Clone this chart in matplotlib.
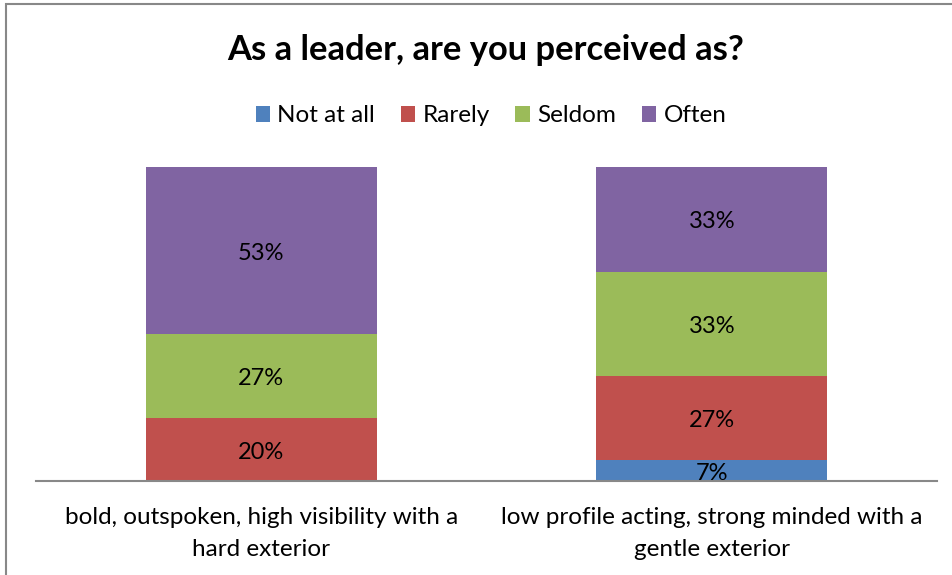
import numpy as np
from matplotlib import pyplot as plt
from matplotlib.patches import Rectangle

plt.rcParams['font.family'] = ['Lato', 'DejaVu Sans']

# data: number of answers per category (shown as percent of total)
categories = ["bold, outspoken, high visibility with a\nhard exterior",
              "low profile acting, strong minded with a\ngentle exterior"]
series_names = ["Not at all", "Rarely", "Seldom", "Often"]
not_at_all = [0, 1]
rarely = [3, 4]
seldom = [4, 5]
often = [8, 5]
colors = ["#4f81bd", "#c0504d", "#9bbb59", "#8064a2"]

values = np.array([not_at_all, rarely, seldom, often], dtype=float)
shares = values / values.sum(axis=0)

fig = plt.figure(figsize=(9.53, 5.75), dpi=100)
ax = fig.add_axes([36 / 953, 1 - 481 / 575, 901 / 953, 314 / 575])

x = np.arange(len(categories))
bottom = np.zeros(len(categories))
for name, share, col in zip(series_names, shares, colors):
    ax.bar(x, share, 0.513, bottom=bottom, color=col, label=name)
    for xi, b, s in zip(x, bottom, share):
        if s > 0:
            ax.text(xi, b + s / 2 - 0.008, f"{s * 100:.0f}%", ha="center", va="center",
                    fontsize=17, color="black")
    bottom += share

ax.set_xlim(-0.5, 1.5)
ax.set_ylim(0, 1)
ax.set_yticks([])
ax.set_xticks(x)
ax.set_xticklabels(categories, fontsize=17.5, linespacing=1.62)
ax.tick_params(axis="x", length=0, pad=19)
for side in ["left", "right", "top"]:
    ax.spines[side].set_visible(False)
ax.spines["bottom"].set_color("#888888")
ax.spines["bottom"].set_linewidth(1.5)

fig.text(486 / 953, 1 - 50 / 575, "As a leader, are you perceived as?", ha="center", va="center",
         fontsize=24.8, fontweight="bold")

fig.legend(loc="center", bbox_to_anchor=(491 / 953, 1 - 116 / 575), ncol=4, frameon=False,
           fontsize=17.5, handlelength=0.6, handleheight=0.6, handletextpad=0.3,
           columnspacing=1.05)

# chart border
fig.patches.append(Rectangle((6 / 953, -0.1), 1.2, 1 - 4 / 575 + 0.1, transform=fig.transFigure,
                             fill=False, edgecolor="#888888", linewidth=1.5))

plt.savefig("out.png", dpi=100)
plt.close()
